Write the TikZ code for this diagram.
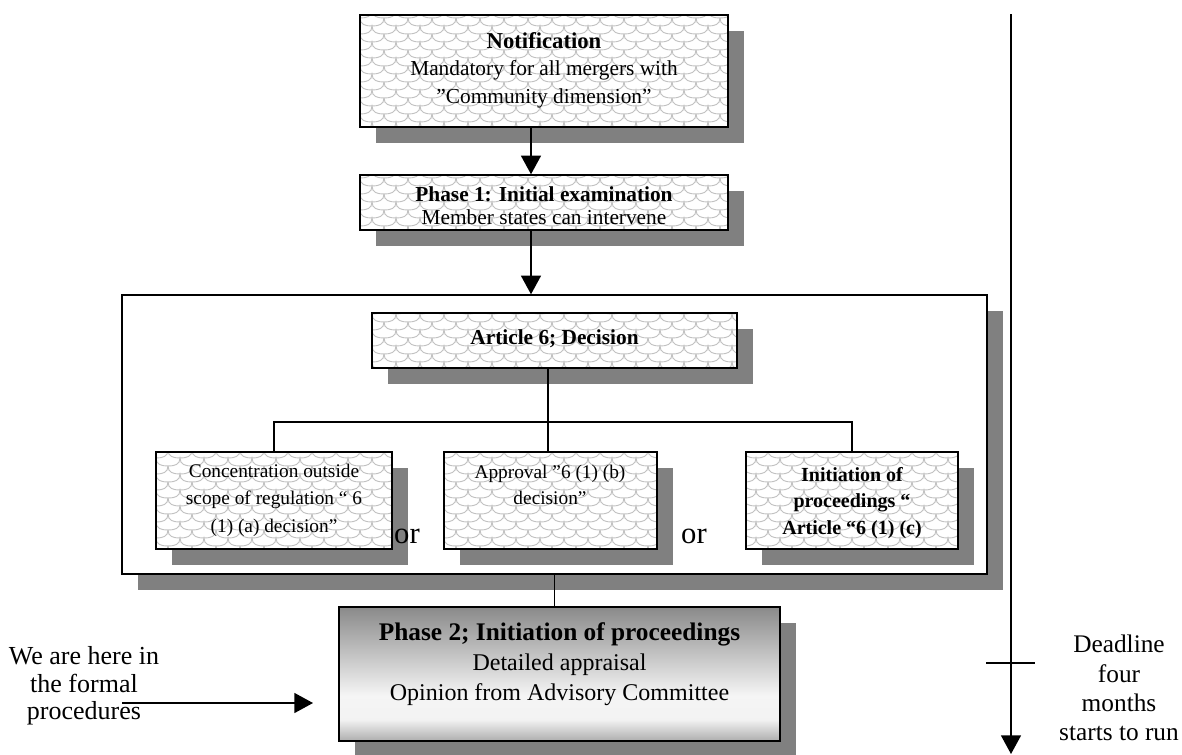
\documentclass[tikz,border=0pt]{standalone}
\usepackage{fontspec}
\setmainfont{Liberation Serif}
\usetikzlibrary{arrows.meta,shadows,patterns,calc}

% light fish-scale fill used inside the hatched boxes
\pgfdeclarepatternformonly{scales}{\pgfpoint{-1pt}{-1pt}}{\pgfpoint{19pt}{13pt}}{\pgfpoint{18pt}{12pt}}{%
  \pgfsetlinewidth{0.7pt}%
  \pgfpathmoveto{\pgfpoint{0pt}{12pt}}%
  \pgfpathcurveto{\pgfpoint{0pt}{7pt}}{\pgfpoint{4pt}{6pt}}{\pgfpoint{9pt}{6pt}}%
  \pgfpathcurveto{\pgfpoint{14pt}{6pt}}{\pgfpoint{18pt}{7pt}}{\pgfpoint{18pt}{12pt}}%
  \pgfpathmoveto{\pgfpoint{0pt}{0pt}}%
  \pgfpathcurveto{\pgfpoint{5pt}{0pt}}{\pgfpoint{9pt}{1pt}}{\pgfpoint{9pt}{6pt}}%
  \pgfpathcurveto{\pgfpoint{9pt}{1pt}}{\pgfpoint{13pt}{0pt}}{\pgfpoint{18pt}{0pt}}%
  \pgfusepath{stroke}%
}

% grey-white-grey fill of the phase 2 box
\pgfdeclareverticalshading{phasetwo}{100bp}{color(0bp)=(black!32); color(25bp)=(black!32); color(33bp)=(black!5); color(42bp)=(black!4); color(75bp)=(black!46); color(100bp)=(black!46)}

\tikzset{
  shadowed/.style={drop shadow={shadow xshift=12pt, shadow yshift=-12pt, fill=gray, opacity=1}},
  hatchbox/.style={shadowed, draw=black, line width=1.1pt, preaction={fill=white},
    pattern=scales, pattern color=black!24, inner sep=0pt},
  framebox/.style={shadowed, draw=black, line width=1.1pt, fill=white, inner sep=0pt},
  phasebox/.style={shadowed, draw=black, line width=1.1pt, shading=phasetwo, inner sep=0pt},
  txt/.style={align=center, inner sep=0pt},
  conn/.style={draw=black, line width=1.1pt},
  arr/.style={conn, -{Triangle[length=14pt,width=15pt]}},
}

\begin{document}
\begin{tikzpicture}[x=0.75pt,y=-0.75pt]
\useasboundingbox (0,0) rectangle (1182,754);

% boxes
\node[hatchbox, minimum width=276pt, minimum height=84pt] (notif) at (544,71) {};
\node[hatchbox, minimum width=276pt, minimum height=41.25pt] (ph1) at (544,202.5) {};
\node[framebox, minimum width=648.75pt, minimum height=209.25pt] (frame) at (554.5,434.5) {};
\node[hatchbox, minimum width=273.75pt, minimum height=41.25pt] (art6) at (554.5,340.5) {};
\node[hatchbox, minimum width=177pt, minimum height=72.75pt] (optA) at (274,500.5) {};
\node[hatchbox, minimum width=159.75pt, minimum height=72.75pt] (optB) at (550.5,500.5) {};
\node[hatchbox, minimum width=159pt, minimum height=72.75pt] (optC) at (852,500.5) {};
\node[phasebox, minimum width=330.75pt, minimum height=100.5pt] (ph2) at (559.5,674) {};

% box texts
\node[txt, font=\fontsize{16}{20.6}\selectfont] (notifText) at (544,70)
  {\textbf{\fontsize{17}{20.6}\selectfont Notification}\\Mandatory for all mergers with\\”Community dimension”};
\node[txt, font=\fontsize{16}{17.5}\selectfont] (ph1Text) at (544,206)
  {\textbf{Phase 1: Initial examination}\\Member states can intervene};
\node[txt, font=\bfseries\fontsize{16}{18}\selectfont] (art6Text) at (554.5,339) {Article 6; Decision};
\node[txt, font=\fontsize{14.5}{20.6}\selectfont] (optAText) at (274,500)
  {Concentration outside\\scope of regulation “ 6\\(1) (a) decision”};
\node[txt, font=\fontsize{14.5}{19}\selectfont] (optBText) at (550,485)
  {Approval ”6 (1) (b)\\decision”};
\node[txt, font=\bfseries\fontsize{15}{20}\selectfont] (optCText) at (852,503)
  {Initiation of\\proceedings “\\Article “6 (1) (c)};
\node[txt, font=\fontsize{18}{22.5}\selectfont] (ph2Text) at (559.5,664)
  {\textbf{\fontsize{19}{22.5}\selectfont Phase 2; Initiation of proceedings}\\Detailed appraisal\\Opinion from Advisory Committee};

\node[txt, font=\fontsize{23}{24}\selectfont] (or1) at (407,536) {or};
\node[txt, font=\fontsize{23}{24}\selectfont] (or2) at (694,536) {or};

% main flow
\coordinate (flowX) at (531,0);
\draw[arr] (notif.south -| flowX) -- (ph1.north -| flowX);
\draw[arr] (ph1.south -| flowX) -- (frame.north -| flowX);

% branching of the article 6 decision
\coordinate (hub) at (548,422);
\draw[conn] (art6.south -| hub) -- (optB.north -| hub);
\draw[conn] (optA.north) |- (hub) -| (optC.north);

\draw[conn] (frame.south) -- (frame.south |- ph2.north);

% pointer to the current stage
\node[txt, font=\fontsize{19.5}{20.6}\selectfont] (here) at (84,686) {We are here in\\the formal\\procedures};
\coordinate (hereStart) at (122,703);
\coordinate (hereEnd) at (313,703);
\draw[arr] (hereStart) -- (hereEnd);

% time line
\coordinate (axTop) at (1011,14);
\coordinate (axBot) at (1011,754);
\draw[arr] (axTop) -- (axBot);
\coordinate (tickL) at (986,663);
\coordinate (tickR) at (1035,663);
\draw[conn] (tickL) -- (tickR);
\node[txt, font=\fontsize{19}{22}\selectfont] (deadline) at (1119,688) {Deadline\\four\\months\\starts to run};
\end{tikzpicture}
\end{document}
